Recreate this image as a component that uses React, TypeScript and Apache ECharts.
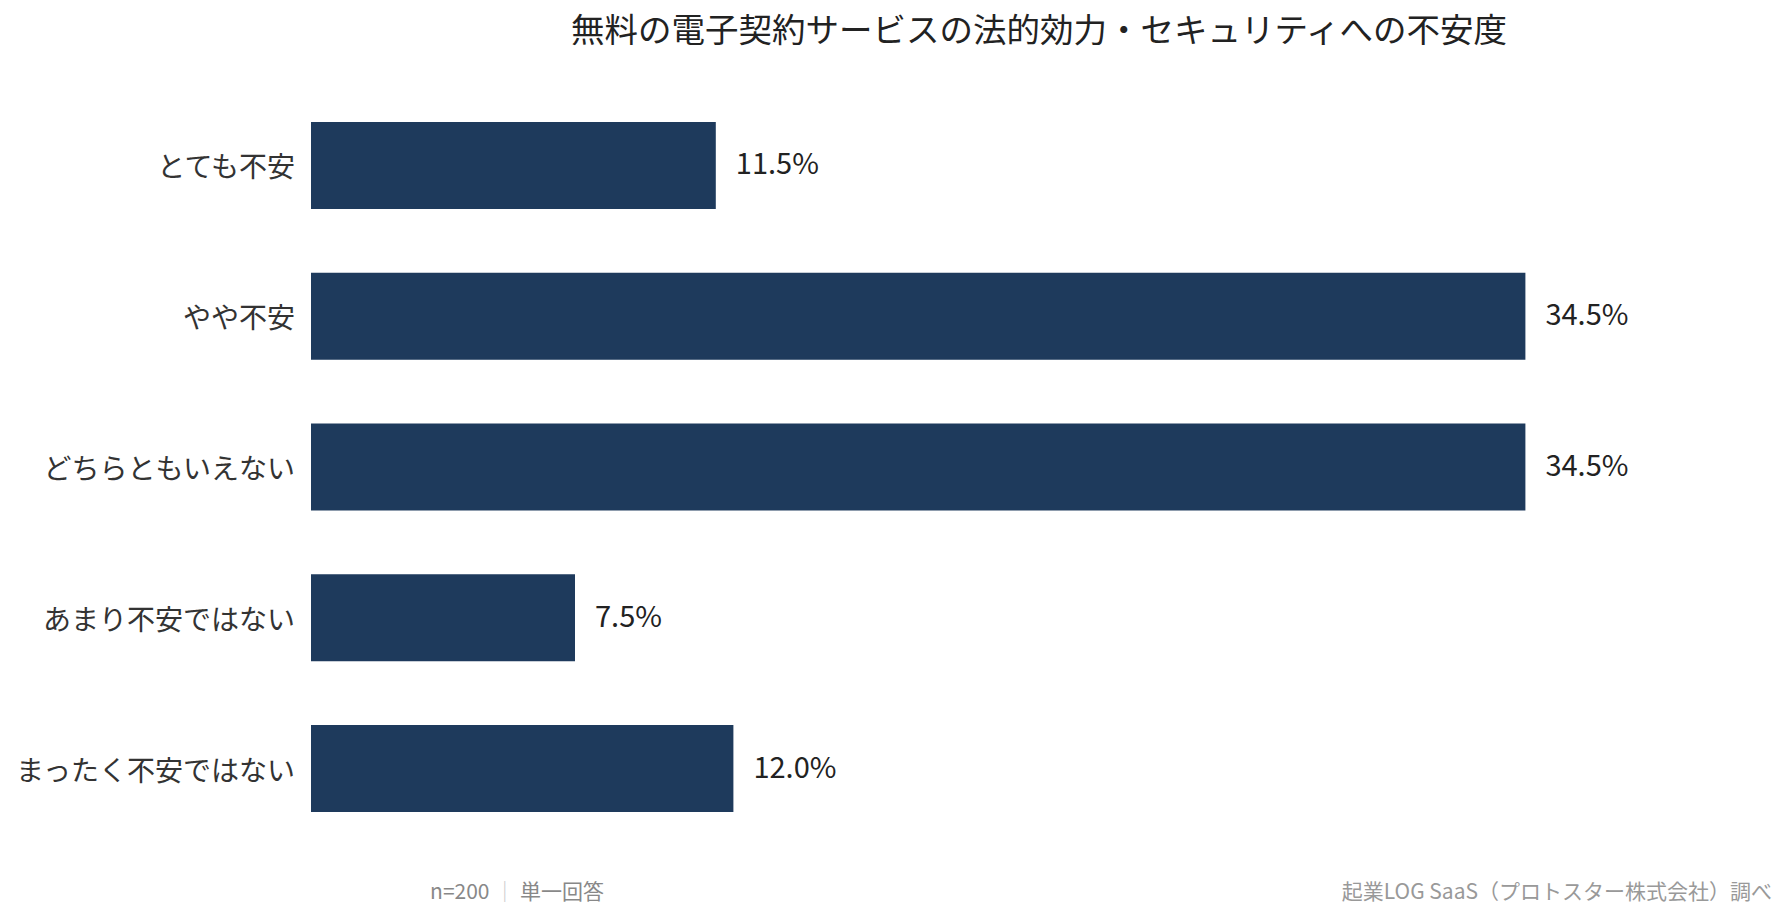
import React, { useEffect, useRef } from "react";
import * as echarts from "echarts";

// Survey answers (top to bottom) and their shares in percent
const categories = [
  "とても不安",
  "やや不安",
  "どちらともいえない",
  "あまり不安ではない",
  "まったく不安ではない",
];
const shares = [11.5, 34.5, 34.5, 7.5, 12.0];

const titleText = "無料の電子契約サービスの法的効力・セキュリティへの不安度";
const sampleNote = "n=200";
const answerNote = "単一回答";
const sourceNote = "起業LOG SaaS（プロトスター株式会社）調べ";

const FONT = '"Noto Sans CJK JP", "Noto Sans", sans-serif';
const BAR_COLOR = "#1e3a5c";

export default function App() {
  const ref = useRef<HTMLDivElement>(null);

  useEffect(() => {
    if (!ref.current) return;
    const chart = echarts.init(ref.current, undefined, { renderer: "svg" });
    chart.setOption({
      animation: false,
      backgroundColor: "#ffffff",
      textStyle: { fontFamily: FONT },
      grid: { left: 311, right: 69, top: 90, bottom: 75, containLabel: false },
      xAxis: {
        type: "value",
        min: 0,
        max: 40,
        show: false,
      },
      yAxis: {
        type: "category",
        data: categories,
        inverse: true,
        axisLine: { show: false },
        axisTick: { show: false },
        splitLine: { show: false },
        axisLabel: {
          margin: 16,
          fontSize: 28,
          color: "#333333",
          fontFamily: FONT,
        },
      },
      series: [
        {
          type: "bar",
          data: shares,
          barWidth: 87,
          itemStyle: { color: BAR_COLOR },
          label: {
            show: true,
            position: "right",
            distance: 20,
            offset: [0, -4],
            fontSize: 29,
            color: "#222222",
            fontFamily: FONT,
            formatter: (p: any) => `${Number(p.value).toFixed(1)}%`,
          },
        },
      ],
      graphic: [
        {
          type: "text",
          x: 1039,
          y: 27,
          style: {
            text: titleText,
            font: `33.5px ${FONT}`,
            fill: "#222222",
            textAlign: "center",
            textVerticalAlign: "middle",
            align: "center",
            verticalAlign: "middle",
          },
        },
        {
          type: "text",
          x: 517,
          y: 890,
          style: {
            text: `{a|${sampleNote} }{b|｜}{a| ${answerNote}}`,
            font: `21px ${FONT}`,
            fill: "#888888",
            textAlign: "center",
            textVerticalAlign: "middle",
            align: "center",
            verticalAlign: "middle",
            rich: {
              a: { fontSize: 21, fontFamily: FONT, fill: "#888888", color: "#888888" },
              b: { fontSize: 21, fontFamily: FONT, fill: "#cccccc", color: "#cccccc" },
            },
          },
        },
        {
          type: "text",
          x: 1772,
          y: 890,
          style: {
            text: sourceNote,
            font: `21px ${FONT}`,
            fill: "#999999",
            textAlign: "right",
            textVerticalAlign: "middle",
            align: "right",
            verticalAlign: "middle",
          },
        },
      ],
    });
    return () => chart.dispose();
  }, []);

  return (
    <div
      ref={ref}
      style={{ position: "fixed", left: 0, top: 0, width: 1788, height: 919 }}
    />
  );
}
